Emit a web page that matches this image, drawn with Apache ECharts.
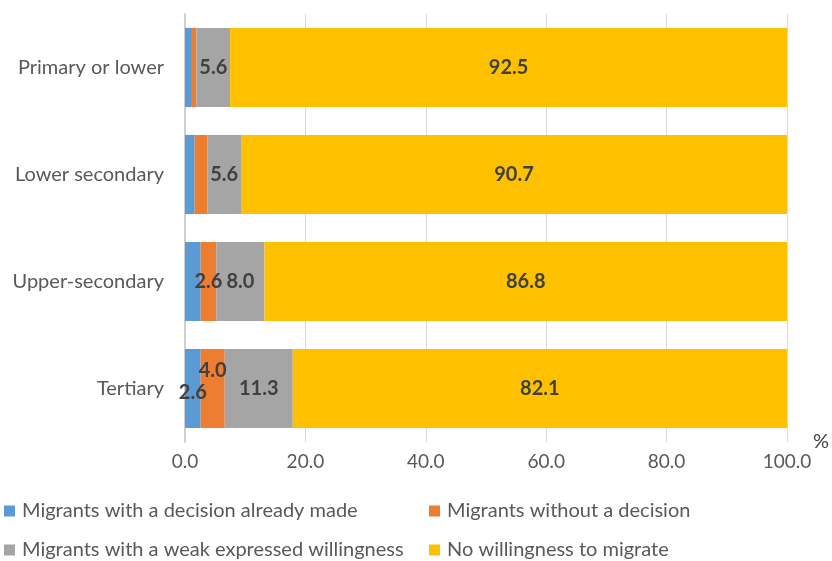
<!DOCTYPE html>
<html><head><meta charset="utf-8">
<script src="https://cdn.jsdelivr.net/npm/echarts@6/dist/echarts.min.js"></script>
<style>html,body{margin:0;padding:0;background:#fff}#c{width:832px;height:561px}</style>
</head><body><div id="c"></div>
<script>
const categories = ["Primary or lower", "Lower secondary", "Upper-secondary", "Tertiary"];
const seriesNames = ["Migrants with a decision already made", "Migrants without a decision", "Migrants with a weak expressed willingness", "No willingness to migrate"];
const decided = [1.0, 1.6, 2.6, 2.6];
const undecided = [0.9, 2.1, 2.6, 4.0];
const weak = [5.6, 5.6, 8.0, 11.3];
const noWill = [92.5, 90.7, 86.8, 82.1];
// which values carry a data label in the original
const showLabel = [
  [false, false, false, true],
  [false, false, true, true],
  [true, true, true, true],
  [true, true, true, true]
];
const colors = ["#5B9BD5", "#ED7D31", "#A5A5A5", "#FFC000"];
const values = [decided, undecided, weak, noWill];
const font = "Lato";

const chart = echarts.init(document.getElementById('c'));
const series = values.map((vals, si) => ({
  name: seriesNames[si],
  type: 'bar',
  stack: 'total',
  barCategoryGap: '26%',
  itemStyle: { color: colors[si] },
  data: vals.map((v, ci) => {
    const item = { value: v };
    item.label = {
      show: showLabel[si][ci],
      position: 'inside',
      formatter: p => p.value.toFixed(1),
      fontFamily: font, fontWeight: 'bold', fontSize: 20, color: '#404040'
    };
    if (si === 1 && ci === 3) item.label.offset = [0, -18];
    if (si === 0 && ci === 3) item.label.offset = [0, 4];
    return item;
  })
}));

const legendText = { fontFamily: font, fontSize: 20, color: '#595959', overflow: 'none', padding: [0, 0, 0, 2], lineHeight: 20 };
const firstCol = Object.assign({}, legendText, { width: 400 });
const secondCol = Object.assign({}, legendText, { width: 300 });

chart.setOption({
  animation: false,
  textStyle: { fontFamily: font },
  grid: { left: 185, right: 45, top: 14, bottom: 119, containLabel: false },
  xAxis: {
    type: 'value', min: 0, max: 100, interval: 20,
    name: '%', nameLocation: 'end', nameGap: 26,
    nameTextStyle: { fontFamily: font, fontSize: 20, color: '#404040', align: 'left', verticalAlign: 'middle', padding: [4, 0, 0, 0] },
    axisLine: { show: false }, axisTick: { show: false },
    splitLine: { show: true, lineStyle: { color: '#D9D9D9', width: 1 } },
    axisLabel: { formatter: v => v.toFixed(1), fontFamily: font, fontSize: 19, color: '#595959', margin: 10 }
  },
  yAxis: {
    type: 'category', data: categories, inverse: true,
    axisLine: { show: true, lineStyle: { color: '#CFCFCF', width: 2 } },
    axisTick: { show: false },
    axisLabel: { fontFamily: font, fontSize: 20, color: '#595959', margin: 21 }
  },
  legend: [
    { data: [{ name: seriesNames[0], textStyle: firstCol }, { name: seriesNames[1], textStyle: secondCol }],
      left: 4, top: 501, width: 828, padding: 0, orient: 'horizontal', itemWidth: 11, itemHeight: 11, itemGap: 7, icon: 'rect', textStyle: legendText },
    { data: [{ name: seriesNames[2], textStyle: firstCol }, { name: seriesNames[3], textStyle: secondCol }],
      left: 4, top: 540, width: 828, padding: 0, orient: 'horizontal', itemWidth: 11, itemHeight: 11, itemGap: 7, icon: 'rect', textStyle: legendText }
  ],
  series: series
});
</script></body></html>
